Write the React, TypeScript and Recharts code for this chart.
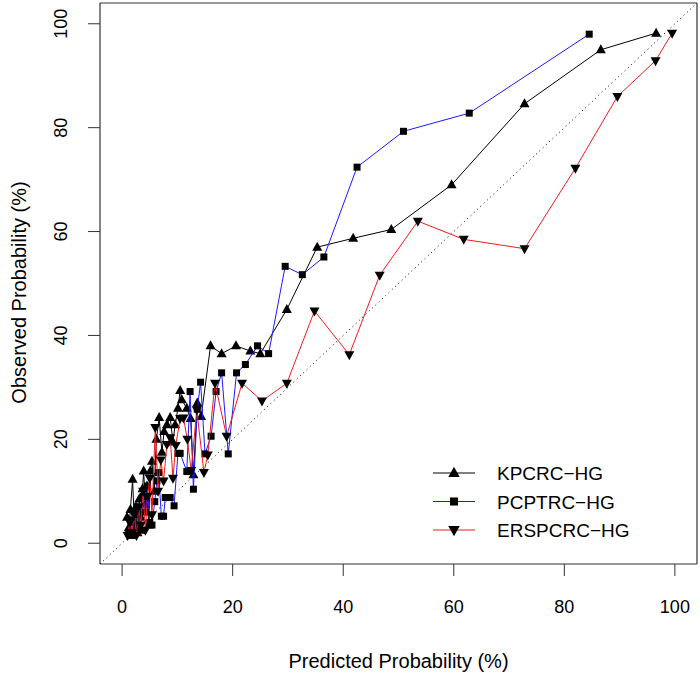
import React from 'react';
import { ScatterChart, Scatter, XAxis, YAxis, ReferenceLine, Legend, Label } from 'recharts';

const FONT = '"Liberation Sans", Arial, sans-serif';

// axis ticks and plot box limits
const axisTicks = [0, 20, 40, 60, 80, 100];
const boxLimits = [-4, 104];

// KPCRC-HG (black, triangle up)
const kpcrcX = [0.9, 1.2, 1.5, 1.9, 2.2, 2.5, 2.8, 3.1, 3.4, 3.7, 3.9, 4.2, 4.5, 4.8, 5.1, 5.4, 5.8, 6.2, 6.7, 7.2, 7.6, 8.1, 8.7, 9.2, 9.6, 10.1, 10.5, 10.8, 11.7, 12.4, 12.9, 13.6, 14.3, 16.0, 18.0, 20.6, 23.2, 25.0, 29.8, 35.3, 41.8, 48.7, 59.6, 72.8, 86.6, 96.6];
const kpcrcY = [5, 3, 6.5, 12.3, 4, 7, 2, 8.5, 5, 10.5, 13.9, 7.5, 11, 3.5, 13.9, 15.8, 10, 20, 24.2, 17.5, 21.5, 22.8, 24.2, 19.5, 22.8, 26, 29.4, 27.6, 26, 24, 13.2, 27, 24.4, 38, 36.5, 38, 37, 36.5, 45, 57, 58.7, 60.4, 69, 84.6, 95, 98.2];

// PCPTRC-HG (blue, square)
const pcptrcX = [1.2, 1.5, 1.8, 2.2, 2.6, 3.0, 3.4, 3.8, 4.2, 4.6, 5.0, 5.4, 5.9, 6.3, 6.6, 7.1, 7.5, 7.8, 8.7, 9.4, 10.1, 10.5, 11.7, 12.3, 12.9, 13.6, 14.2, 15.0, 16.1, 17.0, 18.0, 19.2, 20.7, 22.3, 24.5, 26.5, 29.5, 32.6, 36.5, 42.5, 50.9, 62.8, 84.5];
const pcptrcY = [2, 4.5, 1.5, 6, 3, 5.5, 2.5, 9, 6, 11, 4, 3.5, 8, 12, 13.6, 5.2, 5.2, 8.8, 8.8, 7.2, 17.3, 17.3, 13.8, 29.2, 10.4, 25.8, 31, 17.2, 20.6, 29.2, 32.8, 17.2, 32.8, 34.4, 38, 36.5, 53.3, 51.7, 55.1, 72.4, 79.3, 82.8, 98];

// ERSPCRC-HG (red, triangle down)
const erspcrcX = [1.0, 1.4, 1.8, 2.2, 2.6, 3.0, 3.4, 3.8, 4.2, 4.6, 5.0, 5.4, 6.0, 6.5, 7.0, 7.5, 8.1, 8.7, 9.2, 9.7, 10.5, 11.1, 11.8, 12.5, 13.5, 14.8, 15.5, 16.8, 18.9, 21.7, 25.3, 29.8, 34.8, 41.1, 46.6, 53.5, 61.8, 72.8, 82.0, 89.6, 96.5, 99.5];
const erspcrcY = [1.5, 4, 2, 5.5, 1.5, 7, 3.5, 10, 2.5, 9, 12.5, 5.5, 22.3, 10, 16, 12, 19, 20.3, 12.5, 18.8, 24, 24.1, 20, 14, 25.7, 13.6, 17, 30.8, 20.6, 30.8, 27.4, 30.8, 44.7, 36.3, 51.6, 62, 58.5, 56.7, 72.2, 86, 92.9, 98.2];

const toPoints = (xs: number[], ys: number[]) => xs.map((x, i) => ({ x, y: ys[i] }));

const drawMarker = (kind: string, cx: number, cy: number, s = 1) => {
  if (kind === 'up') {
    return <polygon points={`${cx},${cy - 5.5 * s} ${cx - 5 * s},${cy + 3.5 * s} ${cx + 5 * s},${cy + 3.5 * s}`} fill="#000" />;
  }
  if (kind === 'down') {
    return <polygon points={`${cx - 5 * s},${cy - 3.5 * s} ${cx + 5 * s},${cy - 3.5 * s} ${cx},${cy + 5.5 * s}`} fill="#000" />;
  }
  return <rect x={cx - 3.5 * s} y={cy - 3.5 * s} width={7 * s} height={7 * s} fill="#000" />;
};

const series = [
  { name: 'KPCRC\u2212HG', color: '#000000', marker: 'up', data: toPoints(kpcrcX, kpcrcY) },
  { name: 'PCPTRC\u2212HG', color: '#1a1aff', marker: 'square', data: toPoints(pcptrcX, pcptrcY) },
  { name: 'ERSPCRC\u2212HG', color: '#ee1c1c', marker: 'down', data: toPoints(erspcrcX, erspcrcY) },
];

const YTick = (props: any) => {
  const { x, y, payload } = props;
  return (
    <text x={x} y={y} transform={`rotate(-90, ${x}, ${y})`} textAnchor="middle" fontSize={18} fontFamily={FONT} fill="#000">
      {payload.value}
    </text>
  );
};

const LegendBox = () => (
  <svg width={270} height={95}>
    {series.map((s, i) => {
      const cy = 20 + i * 28.5;
      return (
        <g key={s.name}>
          <line x1={8} x2={50} y1={cy} y2={cy} stroke={s.color} strokeWidth={1} />
          {drawMarker(s.marker, 29, cy, 1.15)}
          <text x={72} y={cy + 7} fontSize={19} fontFamily={FONT} fill="#000">{s.name}</text>
        </g>
      );
    })}
  </svg>
);

export default function App() {
  return (
    <div style={{ position: 'absolute', left: 0, top: 0, width: 700, height: 676, background: '#fff' }}>
      <ScatterChart width={700} height={676} margin={{ top: 3, right: 3, left: 40, bottom: 52 }}>
        <XAxis
          type="number"
          dataKey="x"
          domain={boxLimits}
          ticks={axisTicks}
          allowDataOverflow
          axisLine={false}
          tickLine={{ stroke: '#333' }}
          tickSize={12}
          tickMargin={24}
          height={60}
          tick={{ fontSize: 18, fill: '#000', fontFamily: FONT }}
        >
          <Label value="Predicted  Probability (%)" position="bottom" offset={30} fontSize={20} fill="#000" fontFamily={FONT} />
        </XAxis>
        <YAxis
          type="number"
          dataKey="y"
          domain={boxLimits}
          ticks={axisTicks}
          allowDataOverflow
          axisLine={false}
          tickLine={{ stroke: '#333' }}
          tickSize={12}
          tickMargin={21}
          width={60}
          tick={<YTick />}
        >
          <Label
            content={({ viewBox }: any) => {
              const x = viewBox.x - 14;
              const y = viewBox.y + viewBox.height / 2 + 9;
              return (
                <text x={x} y={y} transform={`rotate(-90, ${x}, ${y})`} textAnchor="middle" fontSize={20} fontFamily={FONT} fill="#000">
                  Observed  Probability (%)
                </text>
              );
            }}
          />
        </YAxis>
        {boxLimits.map((v) => (
          <ReferenceLine key={`bx${v}`} x={v} stroke="#333" strokeWidth={1.2} ifOverflow="visible" />
        ))}
        {boxLimits.map((v) => (
          <ReferenceLine key={`by${v}`} y={v} stroke="#333" strokeWidth={1.2} ifOverflow="visible" />
        ))}
        <ReferenceLine segment={[{ x: -4, y: -4 }, { x: 104, y: 104 }]} stroke="#000" strokeDasharray="1 3.5" />
        {series.map((s) => (
          <Scatter
            key={s.name}
            name={s.name}
            data={s.data}
            line={{ stroke: s.color, strokeWidth: 1 }}
            lineType="joint"
            shape={(p: any) => drawMarker(s.marker, p.cx, p.cy)}
            isAnimationActive={false}
          />
        ))}
        <Legend
          layout="vertical"
          align="center"
          verticalAlign="middle"
          wrapperStyle={{ left: 425, top: 453, width: 270, height: 95 }}
          content={() => <LegendBox />}
        />
      </ScatterChart>
    </div>
  );
}
